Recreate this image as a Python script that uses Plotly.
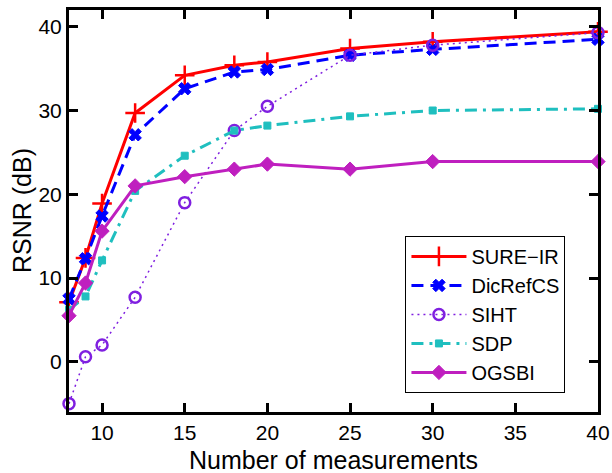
import plotly.graph_objects as go

measurements = [8, 9, 10, 12, 15, 18, 20, 25, 30, 40]
sure_ir = [7.1, 12.4, 18.9, 29.7, 34.2, 35.4, 35.8, 37.4, 38.2, 39.4]
dicrefcs = [7.5, 12.3, 17.4, 27.1, 32.6, 34.6, 34.9, 36.6, 37.3, 38.5]
siht = [-5.0, 0.6, 2.0, 7.7, 19.0, 27.6, 30.5, 36.6, 37.8, 39.3]
sdp = [6.2, 7.8, 12.1, 20.4, 24.6, 27.6, 28.2, 29.3, 30.0, 30.2]
ogsbi = [5.5, 9.4, 15.6, 21.0, 22.1, 23.0, 23.6, 23.0, 23.9, 23.9]

x_ticks = [10, 15, 20, 25, 30, 35, 40]
y_ticks = [0, 10, 20, 30, 40]

FONT = "Liberation Sans, Arial, Helvetica, sans-serif"

series = [
    ("SURE\u2212IR", sure_ir, "#FF0000", "solid", 3, "cross-thin-open", 14, 2.5),
    ("DicRefCS", dicrefcs, "#0000FF", "12px,7px", 3, "x", 11, 1),
    ("SIHT", siht, "#7F1FE0", "2px,4px", 1.5, "circle-open", 11, 2.5),
    ("SDP", sdp, "#1FBFBF", "12px,6px,3px,6px", 3, "square", 7, 1),
    ("OGSBI", ogsbi, "#BF1FBF", "solid", 3, "diamond", 11, 1),
]

fig = go.Figure()
for name, vals, color, dash, lw, sym, msize, mlw in series:
    fig.add_trace(go.Scatter(
        x=measurements, y=vals, name=name, mode="lines+markers",
        line=dict(color=color, width=lw, dash=dash),
        marker=dict(symbol=sym, size=msize, color=color,
                    line=dict(color=color, width=mlw)),
        cliponaxis=False,
    ))

axis_common = dict(
    showline=True, linecolor="black", linewidth=3, mirror="ticks",
    ticks="inside", ticklen=9, tickwidth=3, tickcolor="black",
    showgrid=False, zeroline=False, automargin=False,
    ticklabeloverflow="allow",
    tickfont=dict(family=FONT, size=21, color="black"),
)

fig.update_xaxes(range=[8, 40], tickvals=x_ticks, **axis_common)
fig.update_yaxes(range=[-6, 42], tickvals=y_ticks, **axis_common)

fig.add_annotation(text="Number of measurements", xref="paper", yref="paper",
                   x=0.5, y=0, xanchor="center", yanchor="top", yshift=-32,
                   showarrow=False, font=dict(family=FONT, size=25, color="black"))
fig.add_annotation(text="RSNR (dB)", xref="paper", yref="paper",
                   x=0, y=0.5, xanchor="center", yanchor="middle", xshift=-47,
                   textangle=-90, showarrow=False,
                   font=dict(family=FONT, size=25, color="black"))

fig.update_layout(
    width=612, height=473,
    margin=dict(l=69, r=14, t=10, b=61, autoexpand=False),
    plot_bgcolor="white", paper_bgcolor="white",
    legend=dict(x=0.636, y=0.438, xanchor="left", yanchor="top",
                bordercolor="black", borderwidth=1, bgcolor="white",
                font=dict(family=FONT, size=20, color="black"),
                tracegroupgap=0, itemwidth=55),
    showlegend=True,
)

fig.write_html(
    "out.html",
    config={"displayModeBar": False},
    post_script="document.body.style.margin='0';document.body.style.overflow='hidden';",
)
